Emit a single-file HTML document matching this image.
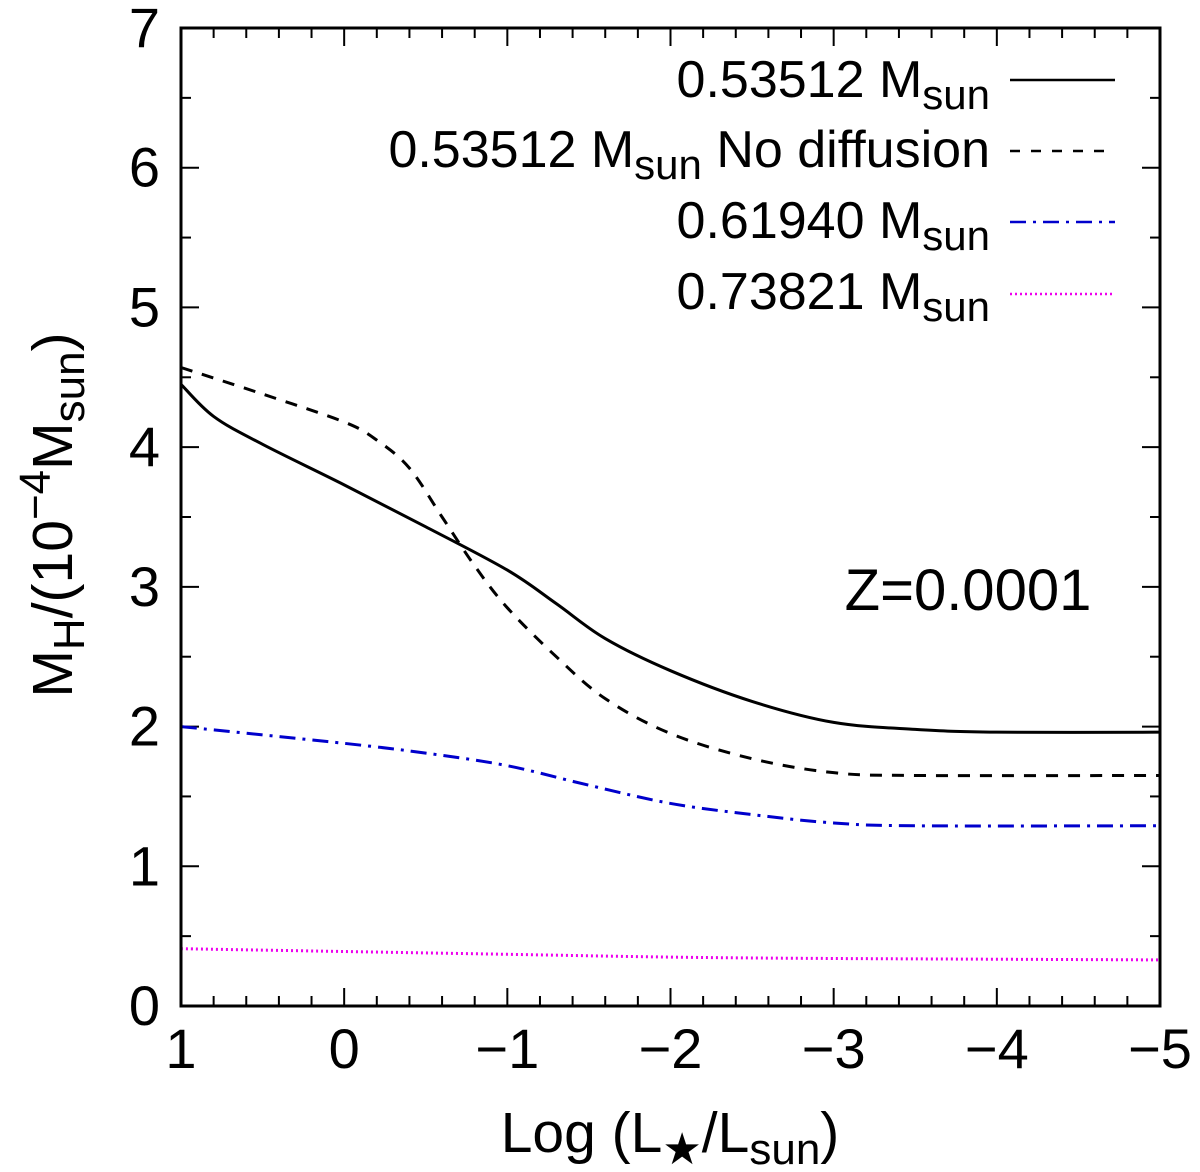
<!DOCTYPE html>
<html><head><meta charset="utf-8"><style>
body{margin:0;background:#fff}
svg{display:block;font-family:"Liberation Sans",sans-serif}
</style></head><body>
<svg id="chart" width="1200" height="1172" viewBox="0 0 1200 1172">
<g id="plot"></g>
</svg>
<script>
const xTicks=[1,0,-1,-2,-3,-4,-5];
const xTickLabels=["1","0","\u22121","\u22122","\u22123","\u22124","\u22125"];
const yTicks=[0,1,2,3,4,5,6,7];
const solidX=[1,0.8,0.5,0,-0.5,-1,-1.3,-1.6,-2,-2.5,-3,-3.5,-4,-5];
const solidY=[4.45,4.22,4.02,3.73,3.43,3.12,2.88,2.63,2.4,2.18,2.03,1.98,1.96,1.96];
const dashX=[1,0.5,0,-0.2,-0.4,-0.6,-0.8,-1,-1.3,-1.6,-2,-2.5,-3,-3.5,-5];
const dashY=[4.57,4.38,4.18,4.05,3.85,3.5,3.15,2.85,2.5,2.2,1.95,1.77,1.67,1.65,1.65];
const blueX=[1,0,-0.5,-1,-1.5,-2,-2.5,-3,-3.5,-5];
const blueY=[2.0,1.88,1.81,1.72,1.58,1.45,1.37,1.31,1.29,1.29];
const magX=[1,0,-1,-2,-3,-5];
const magY=[0.41,0.39,0.37,0.35,0.34,0.33];

const L=181,R=1160,T=28,B=1006;
const sx=v=>L+(1-v)/6*(R-L);
const sy=v=>B-v/7*(B-T);
const NS="http://www.w3.org/2000/svg";
const g=document.getElementById('plot');
function mk(tag,attrs,parent){const e=document.createElementNS(NS,tag);for(const k in attrs)e.setAttribute(k,attrs[k]);(parent||g).appendChild(e);return e;}
function smooth(xs,ys){
  const p=xs.map((x,i)=>[sx(x),sy(ys[i])]);
  let d="M"+p[0][0]+","+p[0][1];
  for(let i=0;i<p.length-1;i++){
    const p0=p[Math.max(0,i-1)],p1=p[i],p2=p[i+1],p3=p[Math.min(p.length-1,i+2)];
    const c1=[p1[0]+(p2[0]-p0[0])/6,p1[1]+(p2[1]-p0[1])/6];
    const c2=[p2[0]-(p3[0]-p1[0])/6,p2[1]-(p3[1]-p1[1])/6];
    d+=` C${c1[0]},${c1[1]} ${c2[0]},${c2[1]} ${p2[0]},${p2[1]}`;
  }
  return d;
}
for(let v=1;v>=-5.0001;v-=0.2){
  const major=Math.abs(v-Math.round(v))<1e-6;const len=major?18:10;const x=sx(v);
  mk('line',{x1:x,x2:x,y1:B,y2:B-len,stroke:'#000','stroke-width':2});
  mk('line',{x1:x,x2:x,y1:T,y2:T+len,stroke:'#000','stroke-width':2});
}
for(let v=0;v<=7.0001;v+=0.5){
  const major=Math.abs(v-Math.round(v))<1e-6;const len=major?18:10;const y=sy(v);
  mk('line',{x1:L,x2:L+len,y1:y,y2:y,stroke:'#000','stroke-width':2});
  mk('line',{x1:R,x2:R-len,y1:y,y2:y,stroke:'#000','stroke-width':2});
}
xTicks.forEach((v,i)=>{const t=mk('text',{x:sx(v),y:1068,'text-anchor':'middle','font-size':56});t.textContent=xTickLabels[i];

});
yTicks.forEach(v=>{const t=mk('text',{x:160,y:sy(v)+19,'text-anchor':'end','font-size':56});t.textContent=v;

});
const series=[
 [solidX,solidY,{stroke:'#000','stroke-width':3,fill:'none'},'line-053512'],
 [dashX,dashY,{stroke:'#000','stroke-width':3,fill:'none','stroke-dasharray':'12,10'},'line-053512-no-diffusion'],
 [blueX,blueY,{stroke:'#0000cc','stroke-width':3,fill:'none','stroke-dasharray':'16,7,3,7'},'line-061940'],
 [magX,magY,{stroke:'#ee00ee','stroke-width':3,fill:'none','stroke-dasharray':'2,3'},'line-073821']
];
series.forEach(s=>{const a=Object.assign({d:smooth(s[0],s[1])},s[2]);const p=mk('path',a);

});
mk('rect',{x:L,y:T,width:R-L,height:B-T,fill:'none',stroke:'#000','stroke-width':3});
</script>
<script>
const svg=document.getElementById('chart');
svg.insertAdjacentHTML('beforeend',`
<g font-size="52">
<text x="990" y="97" text-anchor="end">0.53512 M<tspan font-size="42" dy="12">sun</tspan></text>
<line x1="1010" x2="1115" y1="80" y2="80" stroke="#000" stroke-width="2.5"/>
<text x="990" y="167" text-anchor="end">0.53512 M<tspan font-size="42" dy="12">sun</tspan><tspan dy="-12"> No diffusion</tspan></text>
<line x1="1010" x2="1115" y1="151" y2="151" stroke="#000" stroke-width="2.5" stroke-dasharray="10,11"/>
<text x="990" y="238" text-anchor="end">0.61940 M<tspan font-size="42" dy="12">sun</tspan></text>
<line x1="1010" x2="1115" y1="222" y2="222" stroke="#0000cc" stroke-width="2.5" stroke-dasharray="16,7,3,7"/>
<text x="990" y="309" text-anchor="end">0.73821 M<tspan font-size="42" dy="12">sun</tspan></text>
<line x1="1010" x2="1115" y1="294" y2="294" stroke="#ee00ee" stroke-width="2.5" stroke-dasharray="2,3"/>
</g>
<text x="968" y="610" text-anchor="middle" font-size="58">Z=0.0001</text>
<text x="670" y="1152" text-anchor="middle" font-size="57">Log (L<tspan font-size="44" dy="12">★</tspan><tspan dy="-12">/L</tspan><tspan font-size="44" dy="12">sun</tspan><tspan dy="-12">)</tspan></text>
<text transform="translate(72,515) rotate(-90)" text-anchor="middle" font-size="57">M<tspan font-size="44" dy="12">H</tspan><tspan dy="-12">/(10</tspan><tspan font-size="44" dy="-22">−4</tspan><tspan dy="22">M</tspan><tspan font-size="44" dy="12">sun</tspan><tspan dy="-12">)</tspan></text>
`);
</script>
</body></html>
